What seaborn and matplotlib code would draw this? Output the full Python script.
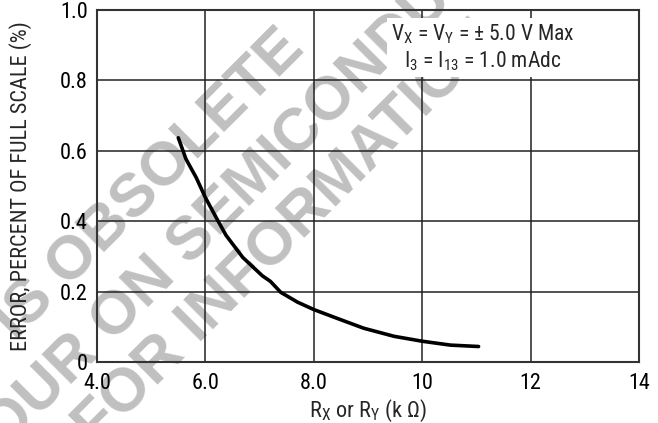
import matplotlib
matplotlib.use("Agg")
import matplotlib.pyplot as plt
import seaborn as sns
import pandas as pd
from matplotlib import font_manager as fm
from matplotlib.transforms import IdentityTransform

# ---- data ----
rx_kohm = [5.50, 5.64, 5.83, 6.00, 6.20, 6.38, 6.69, 7.05, 7.20, 7.39, 7.70, 8.00,
           8.43, 8.92, 9.48, 10.0, 10.52, 11.04]
error_pct = [0.637, 0.577, 0.524, 0.467, 0.410, 0.360, 0.297, 0.245, 0.229, 0.198,
             0.170, 0.149, 0.124, 0.096, 0.073, 0.059, 0.048, 0.044]

x_ticks = [4, 6, 8, 10, 12, 14]
x_tick_labels = ["4.0", "6.0", "8.0", "10", "12", "14"]
y_ticks = [0.0, 0.2, 0.4, 0.6, 0.8, 1.0]
y_tick_labels = ["0", "0.2", "0.4", "0.6", "0.8", "1.0"]

watermark_lines = ["IS OBSOLETE", "YOUR ON SEMICONDUCTOR", "FOR INFORMATION"]

# ---- fonts: prefer a condensed sans (Helvetica Condensed look) ----
avail = {f.name for f in fm.fontManager.ttflist}
narrow = next((n for n in ["Liberation Sans Narrow", "Arial Narrow", "Nimbus Sans Narrow",
                           "Roboto Condensed", "Archivo Narrow", "PT Sans Narrow",
                           "Barlow Semi Condensed"] if n in avail), "DejaVu Sans")

sns.set_theme(style="white")
plt.rcParams["font.family"] = [narrow, "Liberation Sans", "DejaVu Sans"]
plt.rcParams["mathtext.fontset"] = "custom"
plt.rcParams["mathtext.rm"] = narrow
plt.rcParams["mathtext.it"] = narrow + ":italic"
plt.rcParams["mathtext.bf"] = narrow + ":bold"

W, H = 658, 423
fig = plt.figure(figsize=(W / 100, H / 100), dpi=100)
fig.patch.set_facecolor("white")

# watermark (behind everything)
wm_pos = [(150, 185), (265, 170), (287, 234)]
for txt, (px, py) in zip(watermark_lines, wm_pos):
    fig.text(px, H - py, txt, transform=IdentityTransform(), rotation=45,
             rotation_mode="anchor", ha="center", va="center",
             fontsize=44, fontweight="bold", color="#c0c0c0",
             family=["Liberation Sans", "DejaVu Sans"], zorder=-5)

ax = fig.add_axes([97 / W, (H - 362) / H, 542 / W, 352 / H])
ax.patch.set_visible(False)

df = pd.DataFrame({"R": rx_kohm, "E": error_pct})
sns.lineplot(data=df, x="R", y="E", sort=False, color="black", linewidth=2.6,
             ax=ax, zorder=5)

ax.set_xlim(4, 14)
ax.set_ylim(0, 1.0)
ax.set_xticks(x_ticks, x_tick_labels)
ax.set_yticks(y_ticks, y_tick_labels)
ax.grid(True, color="#222222", linewidth=1.1)
ax.set_axisbelow(True)
ax.tick_params(axis="both", length=0, labelsize=16, colors="black")
ax.tick_params(axis="x", pad=8)
ax.tick_params(axis="y", pad=6.5)
for s in ax.spines.values():
    s.set_color("#333333")
    s.set_linewidth(1.5)

ax.set_xlabel(r"R$_{\mathrm{X}}$ or R$_{\mathrm{Y}}$ (k Ω)", fontsize=16, labelpad=3)
ax.set_ylabel("ERROR, PERCENT OF FULL SCALE (%)", fontsize=16, labelpad=20)

ax.text(0.712, 0.893,
        "V$_{\\mathrm{X}}$ = V$_{\\mathrm{Y}}$ = ± 5.0 V Max\nI$_{\\mathrm{3}}$ = I$_{\\mathrm{13}}$ = 1.0 mAdc",
        transform=ax.transAxes, ha="center", va="center", multialignment="center",
        fontsize=15.5, linespacing=1.2, zorder=4,
        bbox=dict(facecolor="white", edgecolor="none", pad=3))

fig.savefig("out.png", dpi=100)
